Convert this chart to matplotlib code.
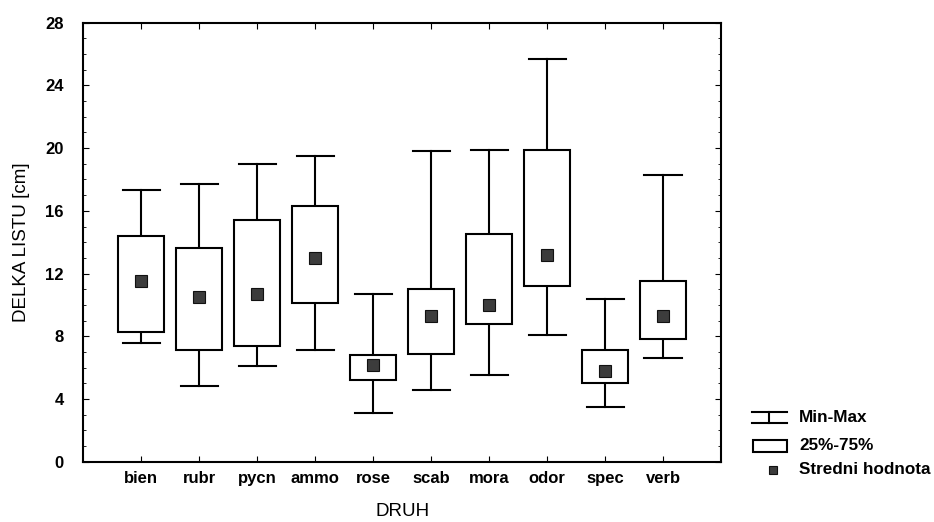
import matplotlib.pyplot as plt
from matplotlib.patches import Rectangle
from matplotlib.lines import Line2D
from matplotlib.ticker import MultipleLocator

plt.rcParams['font.family'] = ['Liberation Sans', 'DejaVu Sans']

druh = ['bien', 'rubr', 'pycn', 'ammo', 'rose', 'scab', 'mora', 'odor', 'spec', 'verb']
mins = [7.6, 4.8, 6.1, 7.1, 3.1, 4.6, 5.5, 8.1, 3.5, 6.6]
q25 = [8.3, 7.1, 7.4, 10.1, 5.2, 6.9, 8.8, 11.2, 5.0, 7.8]
q75 = [14.4, 13.6, 15.4, 16.3, 6.8, 11.0, 14.5, 19.9, 7.1, 11.5]
maxs = [17.3, 17.7, 19.0, 19.5, 10.7, 19.8, 19.9, 25.7, 10.4, 18.3]
means = [11.5, 10.5, 10.7, 13.0, 6.2, 9.3, 10.0, 13.2, 5.8, 9.3]

fig = plt.figure(figsize=(9.34, 5.22), dpi=100)
ax = fig.add_axes([0.089, 0.1155, 0.683, 0.841])

lw = 1.5
box_w = 0.8
cap_w = 0.64
for i, name in enumerate(druh):
    x = i + 1
    # whiskers
    ax.plot([x, x], [mins[i], q25[i]], color='black', lw=lw, zorder=2)
    ax.plot([x, x], [q75[i], maxs[i]], color='black', lw=lw, zorder=2)
    ax.plot([x - cap_w / 2, x + cap_w / 2], [mins[i], mins[i]], color='black', lw=lw, zorder=2)
    ax.plot([x - cap_w / 2, x + cap_w / 2], [maxs[i], maxs[i]], color='black', lw=lw, zorder=2)
    # box
    ax.add_patch(Rectangle((x - box_w / 2, q25[i]), box_w, q75[i] - q25[i],
                           facecolor='white', edgecolor='black', lw=lw, zorder=3))
    # mean
    ax.plot(x, means[i], marker='s', ms=8, color='#3c3c3c', mec='#111111', mew=0.8, zorder=4)

ax.set_xlim(0, 11)
ax.set_ylim(0, 28)
ax.set_xticks(range(1, 11))
ax.set_xticklabels(druh)
ax.yaxis.set_major_locator(MultipleLocator(4))
ax.yaxis.set_minor_locator(MultipleLocator(1))
ax.tick_params(axis='both', which='both', direction='in', top=True, right=True, labelsize=12)
ax.tick_params(axis='y', which='major', length=4, pad=14)
ax.tick_params(axis='y', which='minor', length=2)
ax.tick_params(axis='x', which='major', length=4, pad=7)
for lab in ax.get_xticklabels() + ax.get_yticklabels():
    lab.set_fontweight('bold')
for s in ax.spines.values():
    s.set_linewidth(1.5)

ax.set_ylabel('DELKA LISTU [cm]', fontsize=13.5, labelpad=11)
ax.set_xlabel('DRUH', fontsize=13.5, labelpad=12)

# legend drawn in figure pixels
W, H = 934, 522
def fx(p):
    return p / W
def fy(p):
    return 1 - p / H

fig.add_artist(Line2D([fx(752), fx(787)], [fy(412), fy(412)], color='black', lw=lw))
fig.add_artist(Line2D([fx(752), fx(787)], [fy(423), fy(423)], color='black', lw=lw))
fig.add_artist(Line2D([fx(769), fx(769)], [fy(412), fy(423)], color='black', lw=lw))
fig.add_artist(Rectangle((fx(753), fy(451.5)), fx(787) - fx(753), fy(440) - fy(451.5),
                         facecolor='white', edgecolor='black', lw=lw))
fig.add_artist(Line2D([fx(773)], [fy(470)], marker='s', ms=6, color='#3c3c3c', mec='#111111', mew=0.8))

fig.text(fx(799), fy(418), 'Min-Max', fontsize=12.3, fontweight='bold', va='center')
fig.text(fx(799), fy(445), '25%-75%', fontsize=12.3, fontweight='bold', va='center')
fig.text(fx(799), fy(469), 'Stredni hodnota', fontsize=12.3, fontweight='bold', va='center')

fig.savefig('out.png', dpi=100)
